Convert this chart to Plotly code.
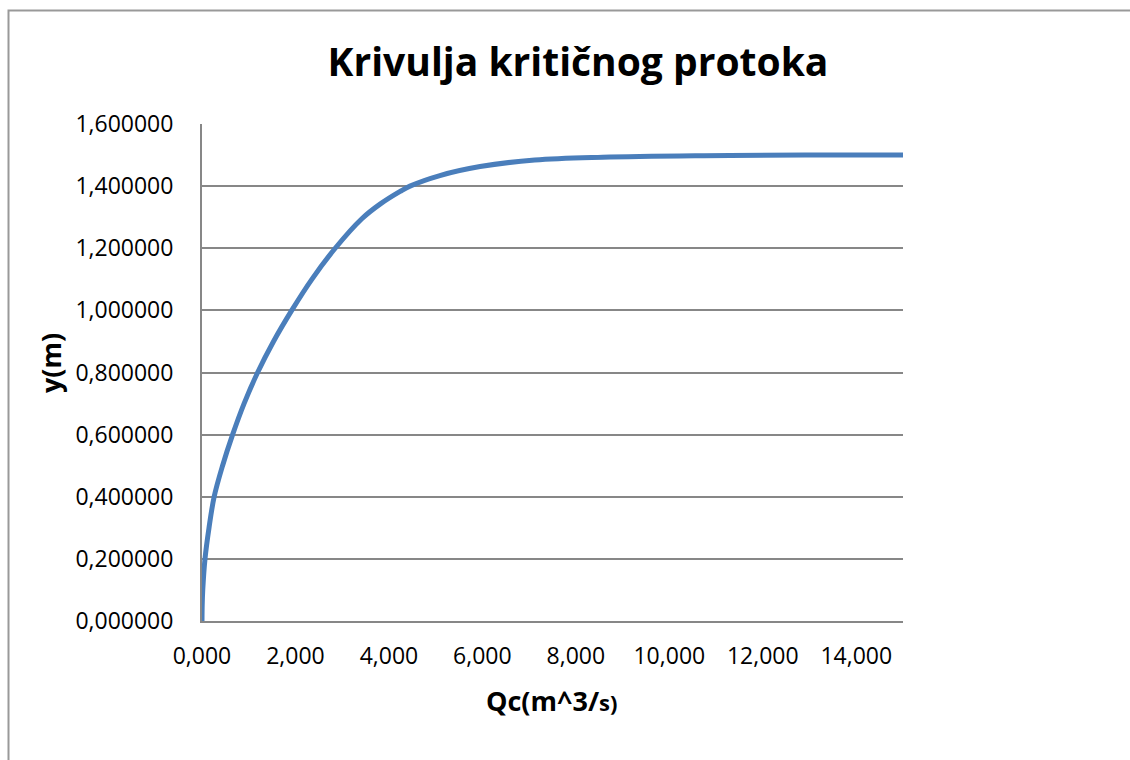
import plotly.graph_objects as go

# Data
qc_values = [0.0, 0.004, 0.016, 0.064, 0.15, 0.26, 0.44, 0.655, 0.90, 1.19, 1.53, 1.92,
             2.35, 2.85, 3.42, 3.81, 4.24, 4.45, 5.09, 5.95, 7.12, 8.57, 10.74, 12.9, 15.0]
y_values = [0.0, 0.05, 0.1, 0.2, 0.3, 0.4, 0.5, 0.6, 0.7, 0.8, 0.9, 1.0,
            1.1, 1.2, 1.295, 1.342, 1.383, 1.4, 1.434, 1.463, 1.484, 1.493, 1.498, 1.5, 1.5]

title_text = "Krivulja kritičnog protoka"
x_title = "Qc(m^3/<span style='font-size:22px'>s)</span>"
y_title = "y(m)"

FONT = "Open Sans"
GRID = "#878787"

fig = go.Figure()
fig.add_trace(go.Scatter(
    x=qc_values, y=y_values, mode="lines",
    line=dict(color="#4A7EBB", width=5, shape="spline", smoothing=1.0),
    showlegend=False, hoverinfo="skip",
))

fig.update_layout(
    width=1130, height=760,
    margin=dict(l=202, r=227, t=124, b=139),
    paper_bgcolor="white", plot_bgcolor="white",
    separators=",.",
    font=dict(family=FONT, size=22, color="black"),
    title=dict(text="<b>" + title_text + "</b>", x=578 / 1130, xref="container",
               xanchor="center", y=1 - 62 / 760, yref="container", yanchor="middle",
               font=dict(family=FONT, size=39, color="black")),
    xaxis=dict(range=[0, 15], dtick=2, tick0=0, tickformat=".3f",
               showgrid=False, zeroline=False, showline=True, linecolor=GRID,
               linewidth=2, ticks="", ticklabelstandoff=13,
               tickfont=dict(family=FONT, size=23, color="black")),
    yaxis=dict(range=[0, 1.6], dtick=0.2, tick0=0, tickformat=".6f",
               showgrid=True, gridcolor=GRID, gridwidth=2, zeroline=False,
               showline=True, linecolor=GRID, linewidth=2, ticks="",
               ticklabelstandoff=22,
               tickfont=dict(family=FONT, size=23, color="black")),
    annotations=[
        dict(text="<b>" + x_title + "</b>", x=(551 - 202) / 701, y=(621 - 700) / 497,
             xref="paper", yref="paper", showarrow=False, xanchor="center",
             yanchor="middle", font=dict(family=FONT, size=27, color="black")),
        dict(text="<b>" + y_title + "</b>", x=(50 - 202) / 701, y=(621 - 363) / 497,
             xref="paper", yref="paper", showarrow=False, xanchor="center",
             yanchor="middle", textangle=-90,
             font=dict(family=FONT, size=27, color="black")),
    ],
    shapes=[
        dict(type="rect", xref="paper", yref="paper",
             x0=(8.5 - 202) / 701, x1=1.6, y0=-0.5, y1=1 + (124 - 10.5) / 497,
             line=dict(color="#999999", width=2), fillcolor="rgba(0,0,0,0)", layer="below"),
    ],
)

fig.write_html("out.html", config={"displayModeBar": False},
               post_script="document.body.style.margin='0';")
